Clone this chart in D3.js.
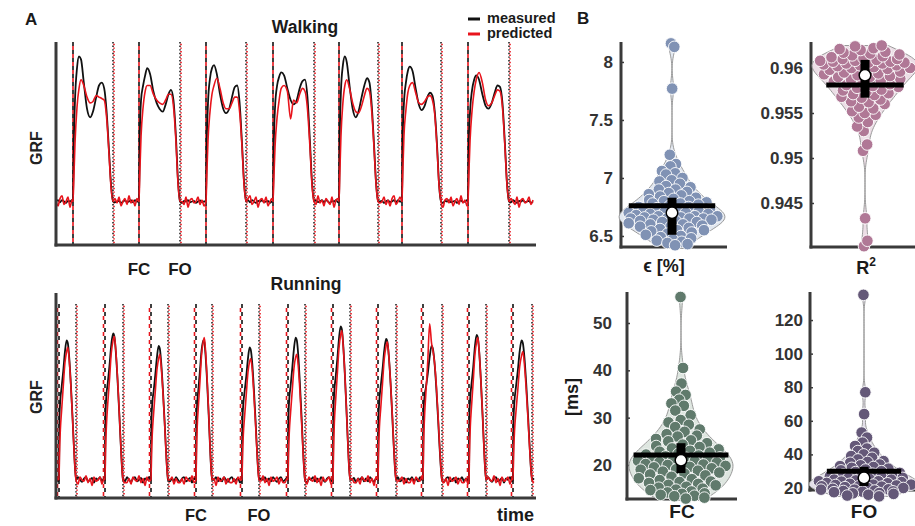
<!DOCTYPE html>
<html>
<head>
<meta charset="utf-8">
<script src="https://cdn.jsdelivr.net/npm/d3@7"></script>
<style>
  body { margin: 0; background: #fff; }
  svg { display: block; font-family: "Liberation Sans", Arial, sans-serif; }
</style>
</head>
<body>
<svg id="fig" width="915" height="526"></svg>
<script>
// ---------- Panel A data (time in arbitrary units, GRF normalised) ----------
const walkFCMeas = [17, 83, 150, 217, 283, 346, 412];
const walkFCPred = [17, 83, 150, 217, 283, 346, 412];
const walkFOMeas = [57, 124, 190, 258, 322, 385, 453];
const walkFOPred = [58, 125, 191, 259, 323, 386, 454];

// stance fractions at which GRF values were read
const walkGrid = [0, 0.02, 0.05, 0.1, 0.15, 0.2, 0.27, 0.35, 0.43, 0.5, 0.58, 0.65, 0.72, 0.78, 0.84, 0.9, 0.95, 1.0];
const walkMeasured = [
  [0, .40, .70, .92, 1.00, .98, .82, .64, .58, .62, .72, .80, .82, .78, .62, .35, .12, 0],
  [0, .45, .70, .80, .87, .92, .88, .76, .68, .64, .62, .67, .74, .77, .70, .45, .15, 0],
  [0, .42, .68, .85, .92, .94, .88, .74, .64, .61, .64, .72, .79, .80, .68, .40, .14, 0],
  [0, .40, .65, .80, .86, .89, .87, .78, .70, .67, .70, .78, .83, .84, .72, .42, .14, 0],
  [0, .45, .76, .94, 1.0, .96, .80, .64, .58, .62, .72, .80, .85, .82, .66, .38, .13, 0],
  [0, .45, .68, .82, .90, .93, .90, .78, .67, .63, .66, .72, .75, .73, .62, .38, .12, 0],
  [0, .40, .62, .77, .84, .87, .84, .74, .66, .64, .68, .75, .80, .79, .68, .40, .13, 0]
];
const walkPredicted = [
  [0, .15, .40, .65, .78, .84, .80, .72, .68, .69, .73, .72, .71, .70, .58, .33, .10, 0],
  [0, .20, .45, .65, .76, .80, .80, .74, .70, .68, .67, .70, .74, .74, .66, .42, .13, 0],
  [0, .18, .42, .62, .74, .80, .85, .78, .68, .64, .64, .68, .72, .72, .62, .38, .12, 0],
  [0, .15, .38, .58, .70, .78, .80, .76, .57, .70, .68, .74, .78, .76, .64, .38, .12, 0],
  [0, .18, .45, .68, .80, .84, .78, .68, .62, .61, .66, .73, .78, .76, .62, .36, .12, 0],
  [0, .20, .45, .63, .75, .80, .82, .75, .68, .67, .69, .72, .73, .70, .60, .36, .11, 0],
  [0, .18, .42, .63, .76, .84, .89, .82, .70, .66, .68, .73, .77, .76, .65, .38, .12, 0]
];
const walkNoiseMeas = [0, .01, -.005, .01, 0, -.01, .005, 0, .01, -.005, 0, .005, -.01, 0, .008, -.004];
const walkNoisePred = [.01, -.03, .02, .04, -.02, 0, .03, -.04, .01, .02, -.01, .03, -.03, 0, .02, -.02,
  .04, -.01, .01, -.03, .02, 0, -.02, .03, -.04, .01, .02, -.01, 0, .03, -.02];

const runFCMeas = [3, 49, 95, 140, 186, 232, 277, 322, 367, 413, 457];
const runFCPred = [1.5, 47.5, 93.5, 138.5, 184.5, 230.5, 275.5, 320.5, 365.5, 411.5, 455.5];
const runFOMeas = [20, 67, 112, 156, 203, 249, 294, 340, 386, 430, 476];
const runFOPred = [21, 68, 113, 157, 204, 250, 295, 341, 387, 431, 477];

const runGrid = [0, 0.03, 0.08, 0.15, 0.25, 0.35, 0.45, 0.52, 0.6, 0.7, 0.8, 0.9, 1.0];
const runMeasured = [
  [0, .45, .58, .66, .78, .92, 1.00, .98, .88, .68, .44, .18, 0],
  [0, .47, .61, .69, .82, .97, 1.05, 1.03, .92, .71, .46, .19, 0],
  [0, .43, .56, .63, .75, .88, .96, .94, .84, .65, .42, .17, 0],
  [0, .42, .56, .65, .79, .93, 1.00, .99, .89, .69, .45, .18, 0],
  [0, .43, .55, .63, .74, .87, .95, .93, .84, .65, .42, .17, 0],
  [0, .46, .59, .67, .80, .94, 1.02, 1.00, .90, .69, .45, .18, 0],
  [0, .50, .64, .73, .86, 1.01, 1.10, 1.08, .97, .75, .48, .20, 0],
  [0, .45, .58, .67, .79, .93, 1.01, .99, .89, .69, .44, .18, 0],
  [0, .48, .60, .66, .76, .88, .96, .94, .85, .66, .42, .17, 0],
  [0, .47, .60, .69, .81, .96, 1.04, 1.02, .92, .71, .46, .19, 0],
  [0, .44, .57, .66, .78, .92, 1.00, .98, .88, .68, .44, .18, 0]
];
const runPredicted = [
  [0, .19, .36, .49, .67, .84, .92, .95, .86, .67, .43, .17, 0],
  [0, .21, .39, .54, .72, .91, 1.00, 1.03, .93, .72, .46, .19, 0],
  [0, .18, .34, .47, .63, .79, .87, .90, .81, .63, .41, .16, 0],
  [0, .20, .39, .53, .71, .90, .99, 1.02, .92, .71, .46, .18, 0],
  [0, .17, .33, .45, .61, .77, .85, .87, .79, .61, .39, .16, 0],
  [0, .19, .35, .48, .64, .80, .88, .90, .82, .64, .41, .17, 0],
  [0, .21, .41, .56, .75, .94, 1.04, 1.07, .96, .75, .48, .19, 0],
  [0, .20, .38, .51, .69, .87, .96, .99, .89, .69, .45, .18, 0],
  [0, .25, .45, .62, .85, 1.12, .98, .93, .85, .68, .44, .18, 0],
  [0, .20, .39, .53, .71, .90, .99, 1.02, .92, .71, .46, .18, 0],
  [0, .18, .35, .48, .64, .81, .89, .92, .83, .64, .41, .17, 0]
];
const runNoiseMeas = [.01, -.01, .02, 0, -.015, .01, .02, -.01, 0, .015, -.02, .01, 0, .02, -.01];
const runNoisePred = [-.02, .01, -.03, .02, 0, -.01, .03, -.02, .01, -.04, .02, -.01, 0, .02, -.03, .01, -.02];

// ---------- Panel B data ----------
const epsValues = [8.16, 8.13, 7.77, 7.2, 7.12, 7.1, 7.06, 7.04, 7.03, 7.0, 6.98, 6.97, 6.95, 6.93, 6.92, 6.9, 6.9,
  6.88, 6.87, 6.86, 6.85, 6.84, 6.83, 6.82, 6.81, 6.8, 6.8, 6.79, 6.78, 6.78, 6.77, 6.76, 6.75, 6.75, 6.74,
  6.73, 6.72, 6.72, 6.71, 6.7, 6.7, 6.7, 6.69, 6.69, 6.68, 6.68, 6.67, 6.67, 6.67, 6.66, 6.66, 6.65, 6.65,
  6.65, 6.65, 6.64, 6.64, 6.63, 6.63, 6.62, 6.62, 6.61, 6.6, 6.6, 6.59, 6.58, 6.58, 6.57, 6.56, 6.55, 6.55,
  6.54, 6.53, 6.52, 6.51, 6.5, 6.49, 6.48, 6.47, 6.46, 6.45, 6.44, 6.43, 6.42];
const r2Values = [0.9402, 0.9408, 0.9433, 0.9508, 0.9515, 0.953, 0.9535, 0.954, 0.9545, 0.9548, 0.955, 0.9552,
  0.9555, 0.9557, 0.956, 0.9562, 0.9563, 0.9565, 0.9567, 0.9568, 0.957, 0.9571, 0.9572, 0.9574, 0.9575,
  0.9576, 0.9578, 0.9579, 0.958, 0.9581, 0.9582, 0.9584, 0.9585, 0.9586, 0.9587, 0.9588, 0.959, 0.959,
  0.9591, 0.9592, 0.9593, 0.9594, 0.9595, 0.9596, 0.9597, 0.9598, 0.9599, 0.96, 0.96, 0.9601, 0.9602,
  0.9603, 0.9603, 0.9604, 0.9605, 0.9605, 0.9606, 0.9606, 0.9607, 0.9607, 0.9608, 0.9608, 0.9609, 0.961,
  0.961, 0.9611, 0.9612, 0.9613, 0.9614, 0.9615, 0.9616, 0.9617, 0.9618, 0.962, 0.9621, 0.9622, 0.9624, 0.9625];
const fcValues = [55.5, 40.5, 37.2, 35.5, 34.8, 33.8, 33, 32.5, 31.5, 30.5, 29.5, 29, 28.5, 28, 27.5, 27, 26.5,
  26.2, 26, 25.5, 25.2, 25, 24.6, 24.3, 24, 23.8, 23.5, 23.3, 23, 22.8, 22.6, 22.4, 22.2, 22, 21.8, 21.6,
  21.5, 21.3, 21.1, 21, 20.9, 20.8, 20.6, 20.5, 20.4, 20.2, 20.1, 20, 19.8, 19.6, 19.5, 19.3, 19.1, 19,
  18.8, 18.6, 18.4, 18.2, 18, 17.8, 17.5, 17.2, 17, 16.8, 16.5, 16.4, 16.2, 16, 15.8, 15.7, 15.4, 15.2, 15,
  14.8, 14.7, 14.4, 14.2, 14, 13.9, 13.7, 13.5, 13.4, 13.1, 12.9];
const foValues = [135, 77, 64, 53, 50, 47, 45, 43.5, 42, 41, 40, 39, 38, 37, 36, 35.5, 35, 34, 33.5, 33, 32.5,
  32, 31.5, 31, 30.5, 30, 29.5, 29, 28.5, 28, 27.5, 27, 27, 26.5, 26, 26, 25.5, 25, 25, 24.5, 24, 24, 23.8,
  23.5, 23, 23, 22.8, 22.5, 22, 22, 21.8, 21.5, 21, 21, 20.8, 20.5, 20, 20, 19.5, 19.2, 19, 19, 18.5, 18.2,
  18, 17.8, 17.5, 17, 16.8, 16.5, 16, 15.5, 15];

// summary statistics: [mean, median, q1, q3]
const epsStats = [6.76, 6.70, 6.51, 6.83];
const r2Stats = [0.9581, 0.9592, 0.9567, 0.9609];
const fcStats = [22.1, 21.0, 18.3, 24.6];
const foStats = [30, 26, 21.2, 32.6];

const epsTicks = [6.5, 7, 7.5, 8];
const r2Ticks = [0.945, 0.95, 0.955, 0.96];
const fcTicks = [20, 30, 40, 50];
const foTicks = [20, 40, 60, 80, 100, 120];

const svg = d3.select("#fig");
const axisColor = "#3a3a3a";

// ---------- helpers for GRF traces ----------
function buildTrace(fc, fo, grid, strides, noise, tEnd) {
  const pts = [];
  let k = 0;
  const swing = (t0, t1) => {
    for (let t = t0; t < t1; t += 2) { pts.push([t, noise[k % noise.length]]); k++; }
  };
  swing(0, fc[0]);
  strides.forEach((vals, i) => {
    grid.forEach((f, j) => pts.push([fc[i] + f * (fo[i] - fc[i]), vals[j]]));
    swing(fo[i] + 2, i + 1 < fc.length ? fc[i + 1] : tEnd);
  });
  return pts;
}

function grfPanel(opt) {
  const x = d3.scaleLinear().domain([0, 480]).range([56, 536]);
  const y = d3.scaleLinear().domain(opt.yDomain).range([opt.bottom, opt.top]);
  const g = svg.append("g");

  // event lines
  const ev = (times, color, dash, offset) => g.append("g").selectAll("line")
    .data(times).join("line")
    .attr("x1", d => x(d)).attr("x2", d => x(d))
    .attr("y1", opt.evTop).attr("y2", opt.bottom)
    .attr("stroke", color).attr("stroke-width", 1.6)
    .attr("stroke-dasharray", dash).attr("stroke-dashoffset", offset);
  ev(opt.fcPred, "#e8141c", "4,4", 4);
  ev(opt.fcMeas, "#111", "4,4", 0);
  ev(opt.foMeas, "#222", "1.4,2.2", 0);
  ev(opt.foPred, "#e8141c", "1.4,2.2", 1.8);

  const line = d3.line().x(d => x(d[0])).y(d => y(d[1])).curve(d3.curveMonotoneX);
  g.append("path").datum(buildTrace(opt.fcMeas, opt.foMeas, opt.grid, opt.meas, opt.noiseMeas, 479))
    .attr("d", line).attr("fill", "none").attr("stroke", "#111").attr("stroke-width", 1.8);
  g.append("path").datum(buildTrace(opt.fcMeas, opt.foMeas, opt.grid, opt.pred, opt.noisePred, 479))
    .attr("d", line).attr("fill", "none").attr("stroke", "#e8141c").attr("stroke-width", 1.6);

  // axes (MATLAB style, no ticks)
  g.append("line").attr("x1", 56).attr("x2", 56).attr("y1", opt.top).attr("y2", opt.bottom + 1.5)
    .attr("stroke", axisColor).attr("stroke-width", 3);
  g.append("line").attr("x1", 54.5).attr("x2", 536).attr("y1", opt.bottom).attr("y2", opt.bottom)
    .attr("stroke", axisColor).attr("stroke-width", 3);

  g.append("text").attr("transform", `translate(42,${opt.labelY}) rotate(-90)`)
    .attr("text-anchor", "middle").attr("font-size", 16).attr("font-weight", "bold")
    .attr("fill", "#222").text("GRF");
}

grfPanel({
  yDomain: [-0.3, 1.1], top: 42, bottom: 245, evTop: 42, labelY: 148,
  fcMeas: walkFCMeas, fcPred: walkFCPred, foMeas: walkFOMeas, foPred: walkFOPred,
  grid: walkGrid, meas: walkMeasured, pred: walkPredicted,
  noiseMeas: walkNoiseMeas, noisePred: walkNoisePred
});
grfPanel({
  yDomain: [-0.13, 1.34], top: 293, bottom: 498, evTop: 304, labelY: 397,
  fcMeas: runFCMeas, fcPred: runFCPred, foMeas: runFOMeas, foPred: runFOPred,
  grid: runGrid, meas: runMeasured, pred: runPredicted,
  noiseMeas: runNoiseMeas, noisePred: runNoisePred
});

// titles, legend, event labels
const txt = (x, y, s, size, anchor = "middle") => svg.append("text")
  .attr("x", x).attr("y", y).attr("text-anchor", anchor)
  .attr("font-size", size).attr("font-weight", "bold").attr("fill", "#1a1a1a").text(s);

txt(25, 25, "A", 17, "start");
txt(577, 24, "B", 17, "start");
txt(305, 33, "Walking", 17.5);
txt(306, 290, "Running", 17.5);
txt(139, 275, "FC", 17);
txt(180, 275, "FO", 17);
txt(196, 521, "FC", 16.5);
txt(259, 521, "FO", 16.5);
txt(534, 521, "time", 18, "end");

svg.append("line").attr("x1", 468).attr("x2", 480).attr("y1", 19).attr("y2", 19)
  .attr("stroke", "#111").attr("stroke-width", 3);
svg.append("line").attr("x1", 468).attr("x2", 480).attr("y1", 34).attr("y2", 34)
  .attr("stroke", "#e8141c").attr("stroke-width", 3);
txt(487, 23, "measured", 14.5, "start");
txt(487, 38, "predicted", 14.5, "start");

// ---------- violins ----------
function violin(opt) {
  const y = d3.scaleLinear().domain(opt.domain).range([opt.bottom, opt.top]);
  const vals = opt.values;
  const med = d3.median(vals);
  const mad = d3.median(vals, v => Math.abs(v - med));
  const h = (mad / 0.6745) * Math.pow(4 / (3 * vals.length), 0.2);
  const dens = t => d3.mean(vals, v => Math.exp(-0.5 * ((t - v) / h) ** 2)) / (h * Math.sqrt(2 * Math.PI));
  const [lo, hi] = d3.extent(vals);
  const samples = d3.range(0, 121).map(i => lo + (hi - lo) * i / 120);
  const curve = samples.map(t => [t, dens(t)]);
  const w = d3.scaleLinear().domain([0, d3.max(curve, d => d[1])]).range([0, opt.halfWidth]);
  const g = svg.append("g");

  // axes
  g.append("line").attr("x1", opt.axisX).attr("x2", opt.axisX).attr("y1", opt.top).attr("y2", opt.bottom + 1.5)
    .attr("stroke", axisColor).attr("stroke-width", 3);
  g.append("line").attr("x1", opt.axisX - 1.5).attr("x2", opt.axisEnd).attr("y1", opt.bottom).attr("y2", opt.bottom)
    .attr("stroke", axisColor).attr("stroke-width", 3);
  const ax = g.append("g").attr("transform", `translate(${opt.axisX},0)`)
    .call(d3.axisLeft(y).tickValues(opt.ticks).tickSize(-3).tickPadding(opt.pad).tickFormat(d3.format("")));
  ax.select(".domain").remove();
  ax.selectAll(".tick line").attr("stroke", axisColor).attr("stroke-width", 1.5);
  ax.selectAll(".tick text").attr("font-size", 17).attr("font-weight", "bold").attr("fill", "#333")
    .attr("font-family", "'Liberation Sans', Arial, sans-serif");

  // violin body
  const area = d3.area().y(d => y(d[0]))
    .x0(d => opt.cx - w(d[1])).x1(d => opt.cx + w(d[1])).curve(d3.curveBasis);
  g.append("path").datum(curve).attr("d", area)
    .attr("fill", opt.fill).attr("stroke", "#9a9a9a").attr("stroke-width", 1);

  // jittered points (deterministic low-discrepancy jitter)
  g.append("g").selectAll("circle").data(vals).join("circle")
    .attr("cx", (v, i) => opt.cx + (2 * ((i * 0.6180339887 + 0.31) % 1) - 1) * w(dens(v)) * 0.9)
    .attr("cy", v => y(v))
    .attr("r", 5.8).attr("fill", opt.color).attr("stroke", "#fff").attr("stroke-width", 0.9);

  const [mean, median, q1, q3] = opt.stats;
  const mw = w(dens(mean));
  g.append("line").attr("x1", opt.cx - mw).attr("x2", opt.cx + mw)
    .attr("y1", y(mean)).attr("y2", y(mean)).attr("stroke", "#000").attr("stroke-width", 5);
  g.append("rect").attr("x", opt.cx - 4.5).attr("width", 9)
    .attr("y", y(q3)).attr("height", y(q1) - y(q3)).attr("fill", "#000");
  g.append("circle").attr("cx", opt.cx).attr("cy", y(median)).attr("r", 5.8)
    .attr("fill", "#fff").attr("stroke", "#000").attr("stroke-width", 1.5);
}

violin({ values: epsValues, stats: epsStats, ticks: epsTicks, domain: [6.405, 8.172],
  top: 42, bottom: 247, axisX: 621, axisEnd: 727, cx: 672, halfWidth: 53, pad: 8,
  color: "#8092b4", fill: "#e1e7f0" });
violin({ values: r2Values, stats: r2Stats, ticks: r2Ticks, domain: [0.94011, 0.96289],
  top: 42, bottom: 247, axisX: 811, axisEnd: 915, cx: 865, halfWidth: 53, pad: 8,
  color: "#b07896", fill: "#ecdee6" });
violin({ values: fcValues, stats: fcStats, ticks: fcTicks, domain: [12.81, 56.55],
  top: 292, bottom: 499, axisX: 627, axisEnd: 737, cx: 681, halfWidth: 52, pad: 15,
  color: "#607a6c", fill: "#dee6e0" });
violin({ values: foValues, stats: foStats, ticks: foTicks, domain: [18.8, 136.7],
  top: 292, bottom: 490, axisX: 810, axisEnd: 915, cx: 864, halfWidth: 55, pad: 7,
  color: "#645878", fill: "#e2dee8" });

txt(664, 272, "ϵ [%]", 18);
const r2 = txt(866, 274, "R", 18);
r2.append("tspan").attr("dy", -8).attr("font-size", 12).text("2");
txt(682, 518, "FC", 19);
txt(864, 518, "FO", 19);
svg.append("text").attr("transform", "translate(578,397) rotate(-90)")
  .attr("text-anchor", "middle").attr("font-size", 18).attr("font-weight", "bold")
  .attr("fill", "#1a1a1a").text("[ms]");
</script>
</body>
</html>
